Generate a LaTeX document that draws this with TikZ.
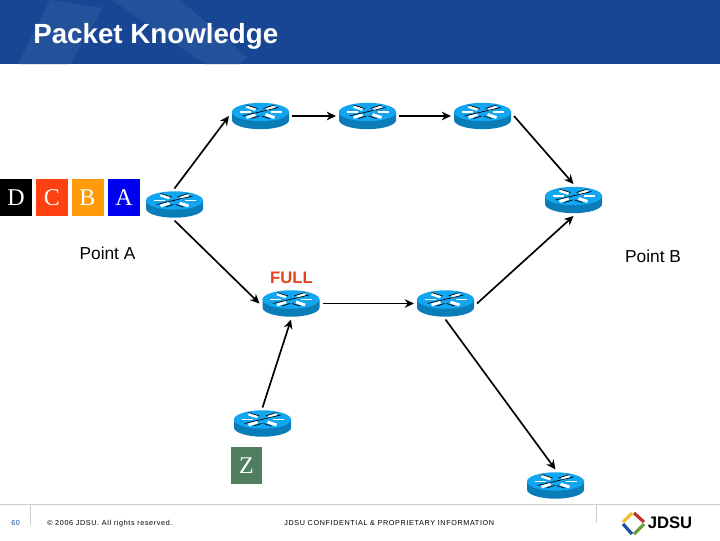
\documentclass[tikz,border=0pt]{standalone}
\usepackage{fontspec}
\setmainfont{Liberation Sans}
\newfontfamily\serifface{Liberation Serif}
\newfontfamily\footface[LetterSpace=9]{Liberation Sans}
\usetikzlibrary{arrows.meta}
\definecolor{headerblue}{HTML}{184694}
\definecolor{headerlight}{HTML}{24529A}
\definecolor{routertop}{HTML}{12A6F0}
\definecolor{routerside}{HTML}{0A7DB8}
\definecolor{rulegray}{HTML}{CCCCCC}
\definecolor{fullred}{HTML}{E5431C}
\definecolor{pktc}{HTML}{FF4010}
\definecolor{pktb}{HTML}{FF9A0A}
\definecolor{pkta}{HTML}{0000F0}
\definecolor{pktz}{HTML}{4F7F5F}
\definecolor{logoy}{HTML}{F0BE28}
\definecolor{logor}{HTML}{BE3232}
\definecolor{logog}{HTML}{64A03C}
\definecolor{logob}{HTML}{1E50A0}
\tikzset{
  x=.75pt,y=-.75pt,
  routerbox/.style={draw=none,inner sep=0pt,outer sep=2.25pt,minimum width=42.75pt,minimum height=19.5pt},
  link/.style={draw=black,line width=1.25pt,-{Stealth[length=7pt,width=6.5pt]}},
  packet/.style={inner sep=0pt,minimum width=24pt,minimum height=27.75pt,text=white,font=\serifface\fontsize{18}{18}\selectfont},
  label/.style={inner sep=0pt,font=\fontsize{13}{13}\selectfont},
  foot/.style={inner sep=0pt,anchor=base west,font=\footface\fontsize{5.4}{6}\selectfont},
  pics/routericon/.style={code={
    \fill[routerside] (-28.5,-4) -- (-28.5,4) arc[start angle=180,end angle=360,x radius=21.4pt,y radius=6.9pt] -- (28.5,-4) -- cycle;
    \fill[routertop] (0,-4) ellipse[x radius=21.4pt,y radius=6.9pt];
    \draw[white,line width=2.2pt] (-14,-9.5) -- (-5,-6.5) (5,-1.5) -- (14,1.5) (14,-9.5) -- (6,-6.5) (-5,-1.5) -- (-14,1.5);
    \draw[black,line width=.5pt] (-14,-11) -- (-3,-7.5) (14,-11) -- (3,-7.5) (-18,0) -- (18,-8.5) (-9,2.5) -- (-1,0) (9,2.5) -- (1,0);
    \draw[white,line width=.8pt] (-21,-4) -- (-10,-4) (10,-4) -- (21,-4);
  }}
}
\begin{document}
\begin{tikzpicture}
\useasboundingbox (0,0) rectangle (720,540);
\fill[white] (0,0) rectangle (720,540);
% header
\fill[headerblue] (0,0) rectangle (720,64);
\fill[headerlight] (50,0) -- (103,8) -- (70,64) -- (18,64) -- cycle;
\fill[headerlight] (112,0) -- (180,0) -- (247,57) -- (240,64) -- (205,64) -- cycle;
\node[anchor=west,inner sep=0pt,text=white,font=\bfseries\fontsize{20.8}{22}\selectfont] (title) at (33,36.5) {Packet Knowledge};
% packets
\node[packet,fill=black] (pd) at (16,197.5) {D};
\node[packet,fill=pktc] (pc) at (52,197.5) {C};
\node[packet,fill=pktb] (pb) at (87.5,197.5) {B};
\node[packet,fill=pkta] (pa) at (124,197.5) {A};
\node[packet,fill=pktz,minimum width=23.25pt] (pz) at (246.5,465.5) {Z};
% routers
\foreach \n/\px/\py in {RA/174.5/204.5,R1/260.5/116,R2/367.5/116,R3/482.5/116,R4/573.5/200,RF/291/303.5,RG/445.5/303.5,RZ/262.5/423.5,RL/555.5/485.5}{
  \node[routerbox] (\n) at (\px,\py) {};
  \pic at (\px,\py) {routericon};
}
% links
\draw[link] (RA.north) -- (R1.west);
\draw[link] (R1.east) -- (R2.west);
\draw[link] (R2.east) -- (R3.west);
\draw[link] (R3.east) -- (R4.north);
\draw[link] (RA.south) -- (RF.west);
\draw[link] (RF.east) -- (RG.west);
\draw[link] (RG.east) -- (R4.south);
\draw[link] (RG.south) -- (RL.north);
\draw[link] (RZ.north) -- (RF.south);
% labels
\node[label] (pta) at (107.5,253) {Point A};
\node[label] (ptb) at (653,256) {Point B};
\node[label,text=fullred,font=\bfseries\fontsize{12.5}{13}\selectfont] (full) at (291.5,278) {FULL};
% footer
\draw[rulegray,line width=.75pt] (0,504) -- (720,504);
\draw[rulegray,line width=.6pt] (30,504) -- (30,525);
\draw[rulegray,line width=.6pt] (596,504) -- (596,523);
\node[foot,text=headerblue] (pg) at (11,525.5) {60};
\node[foot] (copy) at (47,525.5) {© 2006 JDSU. All rights reserved.};
\node[foot] (conf) at (284,525.5) {JDSU CONFIDENTIAL \& PROPRIETARY INFORMATION};
% logo
\draw[line width=2.4pt,logoy] (623,522) -- (632,513);
\draw[line width=2.4pt,logor] (634,513) -- (644,522);
\draw[line width=2.4pt,logog] (644,524) -- (634,534);
\draw[line width=2.4pt,logob] (632,534) -- (623,524);
\node[anchor=west,inner sep=0pt,text=black,font=\bfseries\fontsize{12.5}{13}\selectfont] (logo) at (647.5,523) {JDSU};
\end{tikzpicture}
\end{document}
